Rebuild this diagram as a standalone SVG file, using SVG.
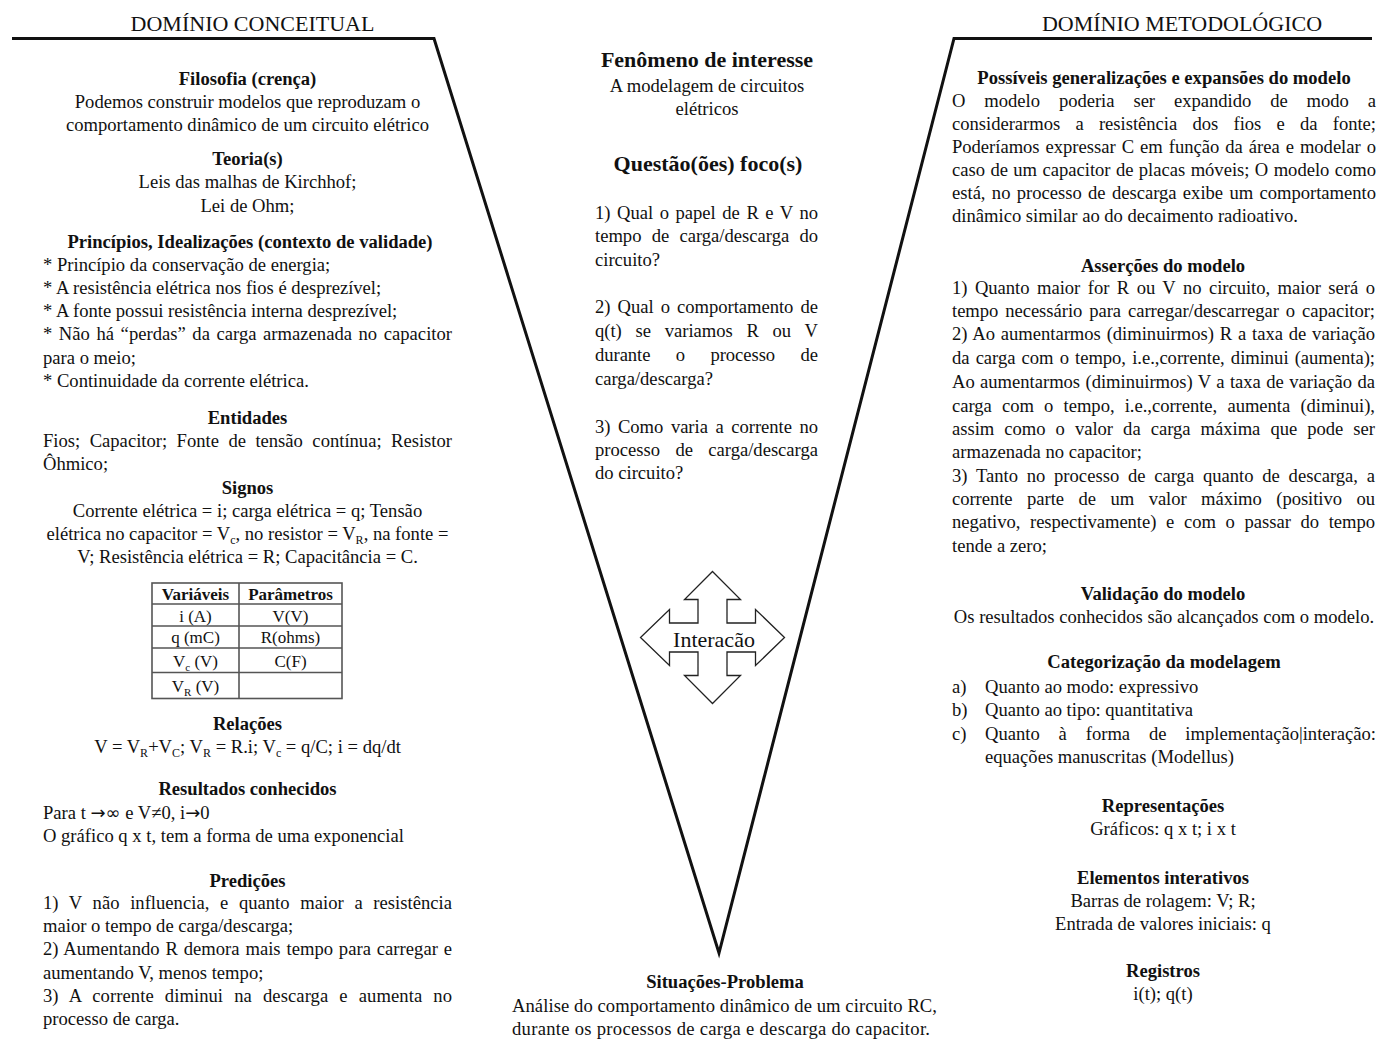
<svg xmlns="http://www.w3.org/2000/svg" width="1379" height="1039" viewBox="0 0 1379 1039">
<style>
text { font-family: "Liberation Serif", "Times New Roman", serif; font-size: 18.6px; fill: #111; }
.b { font-weight: bold; }
.c { text-anchor: middle; }
.t { font-size: 22px; }
.tb { font-size: 17px; }
tspan.sym { font-family: "DejaVu Sans", "Noto Sans", sans-serif; font-size: 18px; }
.frame { fill: none; stroke: #111; stroke-width: 3; stroke-linejoin: miter; }
.arrow { fill: #fff; stroke: #222; stroke-width: 1.3; }
.tbl { fill: none; stroke: #555; stroke-width: 1.6; }
</style>
<rect width="1379" height="1039" fill="#fff"/>

<g id="connectors">
  <path class="frame" d="M12,38.5 H434 L719,953 L954,38.5 H1372"/>
</g>

<g id="dominio-conceitual">
  <text class="t c" x="252.5" y="30.5">DOMÍNIO CONCEITUAL</text>
</g>

<g id="filosofia">
  <text class="b c" x="247.5" y="85">Filosofia (crença)</text>
  <text class="c" x="247.5" y="108">Podemos construir modelos que reproduzam o</text>
  <text class="c" x="247.5" y="131">comportamento dinâmico de um circuito elétrico</text>
</g>

<g id="teorias">
  <text class="b c" x="247.5" y="165">Teoria(s)</text>
  <text class="c" x="247.5" y="188">Leis das malhas de Kirchhof;</text>
  <text class="c" x="247.5" y="211.5">Lei de Ohm;</text>
</g>

<g id="principios">
  <text class="b c" x="250" y="248">Princípios, Idealizações (contexto de validade)</text>
  <text x="43" y="270.5">* Princípio da conservação de energia;</text>
  <text x="43" y="293.8">* A resistência elétrica nos fios é desprezível;</text>
  <text x="43" y="317.1">* A fonte possui resistência interna desprezível;</text>
  <text x="43" y="340.4" textLength="409" lengthAdjust="spacing" style="word-spacing:1.9px">* Não há “perdas” da carga armazenada no capacitor</text>
  <text x="43" y="363.7">para o meio;</text>
  <text x="43" y="387">* Continuidade da corrente elétrica.</text>
</g>

<g id="entidades">
  <text class="b c" x="247.5" y="424">Entidades</text>
  <text x="43" y="447" textLength="409" lengthAdjust="spacing" style="word-spacing:4.8px">Fios; Capacitor; Fonte de tensão contínua; Resistor</text>
  <text x="43" y="470">Ôhmico;</text>
</g>

<g id="signos">
  <text class="b c" x="247.5" y="494">Signos</text>
  <text class="c" x="247.5" y="517">Corrente elétrica = i; carga elétrica = q; Tensão</text>
  <text class="c" x="247.5" y="540">elétrica no capacitor = V<tspan dy="4" font-size="12">c</tspan><tspan dy="-4">, no resistor = V</tspan><tspan dy="4" font-size="12">R</tspan><tspan dy="-4">, na fonte =</tspan></text>
  <text class="c" x="247.5" y="563">V; Resistência elétrica = R; Capacitância = C.</text>
</g>

<g id="tabela">
  <rect class="tbl" x="152" y="583" width="190" height="115.5"/>
  <line class="tbl" x1="239" y1="583" x2="239" y2="698.5"/>
  <line class="tbl" x1="152" y1="604" x2="342" y2="604"/>
  <line class="tbl" x1="152" y1="626" x2="342" y2="626"/>
  <line class="tbl" x1="152" y1="648" x2="342" y2="648"/>
  <line class="tbl" x1="152" y1="672.5" x2="342" y2="672.5"/>
  <text class="tb b c" x="195.5" y="599.5">Variáveis</text>
  <text class="tb b c" x="290.5" y="599.5">Parâmetros</text>
  <text class="tb c" x="195.5" y="621.5">i (A)</text>
  <text class="tb c" x="290.5" y="621.5">V(V)</text>
  <text class="tb c" x="195.5" y="643">q (mC)</text>
  <text class="tb c" x="290.5" y="643">R(ohms)</text>
  <text class="tb c" x="195.5" y="666.5">V<tspan dy="4" font-size="11">c</tspan><tspan dy="-4"> (V)</tspan></text>
  <text class="tb c" x="290.5" y="666.5">C(F)</text>
  <text class="tb c" x="195.5" y="691.5">V<tspan dy="4" font-size="11">R</tspan><tspan dy="-4"> (V)</tspan></text>
</g>

<g id="relacoes">
  <text class="b c" x="247.5" y="730">Relações</text>
  <text class="c" x="247.5" y="753">V = V<tspan dy="4" font-size="12">R</tspan><tspan dy="-4">+V</tspan><tspan dy="4" font-size="12">C</tspan><tspan dy="-4">; V</tspan><tspan dy="4" font-size="12">R</tspan><tspan dy="-4"> = R.i; V</tspan><tspan dy="4" font-size="12">c</tspan><tspan dy="-4"> = q/C; i = dq/dt</tspan></text>
</g>

<g id="resultados">
  <text class="b c" x="247.5" y="795">Resultados conhecidos</text>
  <text x="43" y="819">Para t <tspan class="sym">→∞</tspan> e V≠0, i<tspan class="sym">→</tspan>0</text>
  <text x="43" y="842">O gráfico q x t, tem a forma de uma exponencial</text>
</g>

<g id="predicoes">
  <text class="b c" x="247.5" y="887">Predições</text>
  <text x="43" y="909" textLength="409" lengthAdjust="spacing" style="word-spacing:6px">1) V não influencia, e quanto maior a resistência</text>
  <text x="43" y="932">maior o tempo de carga/descarga;</text>
  <text x="43" y="955" textLength="409" lengthAdjust="spacing" style="word-spacing:1.15px">2) Aumentando R demora mais tempo para carregar e</text>
  <text x="43" y="978.5">aumentando V, menos tempo;</text>
  <text x="43" y="1002" textLength="409" lengthAdjust="spacing" style="word-spacing:6.4px">3) A corrente diminui na descarga e aumenta no</text>
  <text x="43" y="1025">processo de carga.</text>
</g>

<g id="fenomeno">
  <text class="t b c" x="707" y="67">Fenômeno de interesse</text>
  <text class="c" x="707" y="92">A modelagem de circuitos</text>
  <text class="c" x="707" y="115">elétricos</text>
</g>

<g id="questoes">
  <text class="t b c" x="708" y="171">Questão(ões) foco(s)</text>
  <text x="595" y="219" textLength="223" lengthAdjust="spacing" style="word-spacing:1.9px">1) Qual o papel de R e V no</text>
  <text x="595" y="242" textLength="223" lengthAdjust="spacing" style="word-spacing:5.6px">tempo de carga/descarga do</text>
  <text x="595" y="265.5">circuito?</text>
  <text x="595" y="313" textLength="223" lengthAdjust="spacing" style="word-spacing:2.5px">2) Qual o comportamento de</text>
  <text x="595" y="337" textLength="223" lengthAdjust="spacing" style="word-spacing:9.2px">q(t) se variamos R ou V</text>
  <text x="595" y="361" textLength="223" lengthAdjust="spacing" style="word-spacing:20.8px">durante o processo de</text>
  <text x="595" y="384.5">carga/descarga?</text>
  <text x="595" y="433" textLength="223" lengthAdjust="spacing" style="word-spacing:3px">3) Como varia a corrente no</text>
  <text x="595" y="456" textLength="223" lengthAdjust="spacing" style="word-spacing:10.8px">processo de carga/descarga</text>
  <text x="595" y="479">do circuito?</text>
</g>

<g id="interacao">
  <path class="arrow" d="M712.5,571.5 L740.5,599.5 L727,599.5 L727,623 L755.5,623 L755.5,609.5 L784.5,637.5 L755.5,665.5 L755.5,652 L727,652 L727,675.5 L740.5,675.5 L712.5,703.5 L684.5,675.5 L698,675.5 L698,652 L669.5,652 L669.5,665.5 L640.5,637.5 L669.5,609.5 L669.5,623 L698,623 L698,599.5 L684.5,599.5 Z"/>
  <text class="t c" x="714" y="647">Interacão</text>
</g>

<g id="situacoes">
  <text class="b c" x="725" y="988">Situações-Problema</text>
  <text x="512" y="1012" textLength="425" lengthAdjust="spacing">Análise do comportamento dinâmico de um circuito RC,</text>
  <text x="512" y="1034.5" textLength="418" lengthAdjust="spacing">durante os processos de carga e descarga do capacitor.</text>
</g>

<g id="dominio-metodologico">
  <text class="t c" x="1182" y="30.5">DOMÍNIO METODOLÓGICO</text>
</g>

<g id="generalizacoes">
  <text class="b c" x="1164" y="84">Possíveis generalizações e expansões do modelo</text>
  <text x="952" y="107" textLength="424" lengthAdjust="spacing" style="word-spacing:14.3px">O modelo poderia ser expandido de modo a</text>
  <text x="952" y="130" textLength="424" lengthAdjust="spacing" style="word-spacing:10.6px">considerarmos a resistência dos fios e da fonte;</text>
  <text x="952" y="153" textLength="424" lengthAdjust="spacing" style="word-spacing:1.4px">Poderíamos expressar C em função da área e modelar o</text>
  <text x="952" y="176" textLength="424" lengthAdjust="spacing" style="word-spacing:0.8px">caso de um capacitor de placas móveis; O modelo como</text>
  <text x="952" y="199" textLength="424" lengthAdjust="spacing" style="word-spacing:1.7px">está, no processo de descarga exibe um comportamento</text>
  <text x="952" y="222">dinâmico similar ao do decaimento radioativo.</text>
</g>

<g id="assercoes">
  <text class="b c" x="1163" y="271.5">Asserções do modelo</text>
  <text x="952" y="293.5" textLength="423" lengthAdjust="spacing" style="word-spacing:2.85px">1) Quanto maior for R ou V no circuito, maior será o</text>
  <text x="952" y="317" textLength="423" lengthAdjust="spacing" style="word-spacing:2.3px">tempo necessário para carregar/descarregar o capacitor;</text>
  <text x="952" y="340" textLength="423" lengthAdjust="spacing" style="word-spacing:1.2px">2) Ao aumentarmos (diminuirmos) R a taxa de variação</text>
  <text x="952" y="363.5" textLength="423" lengthAdjust="spacing" style="word-spacing:1.5px">da carga com o tempo, i.e.,corrente, diminui (aumenta);</text>
  <text x="952" y="388" textLength="423" lengthAdjust="spacing" style="word-spacing:0.8px">Ao aumentarmos (diminuirmos) V a taxa de variação da</text>
  <text x="952" y="411.5" textLength="423" lengthAdjust="spacing" style="word-spacing:5.6px">carga com o tempo, i.e.,corrente, aumenta (diminui),</text>
  <text x="952" y="435" textLength="423" lengthAdjust="spacing" style="word-spacing:5.5px">assim como o valor da carga máxima que pode ser</text>
  <text x="952" y="458">armazenada no capacitor;</text>
  <text x="952" y="481.5" textLength="423" lengthAdjust="spacing" style="word-spacing:4.1px">3) Tanto no processo de carga quanto de descarga, a</text>
  <text x="952" y="505" textLength="423" lengthAdjust="spacing" style="word-spacing:9.9px">corrente parte de um valor máximo (positivo ou</text>
  <text x="952" y="528" textLength="423" lengthAdjust="spacing" style="word-spacing:5.1px">negativo, respectivamente) e com o passar do tempo</text>
  <text x="952" y="551.5">tende a zero;</text>
</g>

<g id="validacao">
  <text class="b c" x="1163" y="599.5">Validação do modelo</text>
  <text class="c" x="1164" y="622.5">Os resultados conhecidos são alcançados com o modelo.</text>
</g>

<g id="categorizacao">
  <text class="b c" x="1164" y="668">Categorização da modelagem</text>
  <text x="952" y="693">a)</text>
  <text x="985" y="693">Quanto ao modo: expressivo</text>
  <text x="952" y="716">b)</text>
  <text x="985" y="716">Quanto ao tipo: quantitativa</text>
  <text x="952" y="739.5">c)</text>
  <text x="985" y="739.5" textLength="391" lengthAdjust="spacing" style="word-spacing:14.2px">Quanto à forma de implementação|interação:</text>
  <text x="985" y="763">equações manuscritas (Modellus)</text>
</g>

<g id="representacoes">
  <text class="b c" x="1163" y="811.5">Representações</text>
  <text class="c" x="1163" y="835">Gráficos: q x t; i x t</text>
</g>

<g id="elementos">
  <text class="b c" x="1163" y="883.5">Elementos interativos</text>
  <text class="c" x="1163" y="906.5">Barras de rolagem: V; R;</text>
  <text class="c" x="1163" y="930">Entrada de valores iniciais: q</text>
</g>

<g id="registros">
  <text class="b c" x="1163" y="977">Registros</text>
  <text class="c" x="1163" y="1000">i(t); q(t)</text>
</g>
</svg>
